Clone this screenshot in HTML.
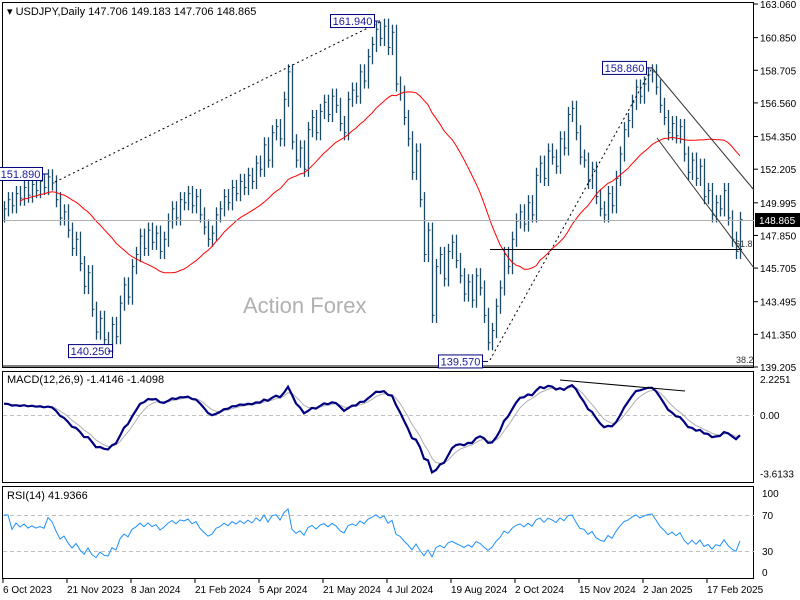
<!DOCTYPE html>
<html><head><meta charset="utf-8"><style>
html,body{margin:0;padding:0;background:#fff;}
svg{display:block;font-family:"Liberation Sans",sans-serif;}
</style></head><body>
<svg id="c" width="800" height="600" viewBox="0 0 800 600">
<rect width="800" height="600" fill="#fff"/>
<g id="frames">
<rect x="2.5" y="2.5" width="751" height="365" fill="none" stroke="#000"/>
<rect x="2.5" y="371.5" width="751" height="111" fill="none" stroke="#000"/>
<rect x="2.5" y="486.5" width="751" height="92" fill="none" stroke="#000"/>
</g>
<text x="243" y="313" font-size="22" fill="#b0b0b0">Action Forex</text>
<g id="main"></g>
<g id="macd"></g>
<g id="rsi"></g>
<g id="axes"></g>
<text x="7" y="15" font-size="11" fill="#000">▾ USDJPY,Daily  147.706 149.183 147.706 148.865</text>
<text x="7" y="383" font-size="11" fill="#000">MACD(12,26,9) -1.4146 -1.4098</text>
<text x="7" y="499" font-size="11" fill="#000">RSI(14) 41.9366</text>
</svg>
<script>
const closes=[149.6,150.2,149.8,150.6,150.3,151.0,150.5,151.2,150.8,151.4,
151.0,151.7,151.3,150.2,149.0,149.4,148.2,147.0,147.6,146.0,
144.5,145.4,143.0,141.5,142.4,141.0,140.6,142.0,141.2,143.4,
144.6,143.8,145.8,146.6,147.8,147.0,148.2,147.4,148.0,146.8,
147.6,148.8,149.6,149.0,150.2,150.0,150.6,149.8,150.4,149.2,
148.4,147.6,148.0,149.2,149.6,150.4,150.0,151.0,150.6,151.4,
151.0,151.8,151.4,152.6,152.2,153.8,152.8,154.6,155.0,154.2,
156.8,158.6,154.0,152.8,153.6,152.2,154.8,155.6,154.6,156.0,
156.6,155.8,157.0,156.4,155.2,154.6,156.8,157.4,157.0,158.6,
158.0,159.6,160.4,161.4,160.8,161.6,160.2,161.2,157.8,157.2,
155.6,154.2,152.0,153.4,150.2,146.6,148.2,142.6,145.8,146.6,
145.0,146.8,147.4,146.2,145.2,144.0,144.8,143.6,145.2,144.4,
142.6,140.8,141.6,143.2,144.4,146.6,145.8,147.6,148.8,149.4,
148.6,150.0,149.2,151.8,152.6,151.6,153.4,153.0,152.4,154.2,
153.6,155.8,156.2,154.6,153.0,152.8,151.4,152.2,150.4,149.6,
149.2,150.6,149.8,151.6,153.2,154.8,155.4,156.6,157.6,157.0,
157.8,158.4,158.6,157.6,156.4,155.6,154.6,155.2,154.4,155.0,
153.2,152.0,152.8,151.6,152.4,150.4,150.8,149.2,150.0,149.6,
150.8,149.0,147.6,146.8,148.9];
const priceTicks=["163.060","160.850","158.705","156.560","154.350","152.205","149.995","147.850","145.705","143.495","141.350","139.205"];
const dateLabels=["6 Oct 2023","21 Nov 2023","8 Jan 2024","21 Feb 2024","5 Apr 2024","21 May 2024","4 Jul 2024","19 Aug 2024","2 Oct 2024","15 Nov 2024","2 Jan 2025","17 Feb 2025"];
const macdTicks=[2.2251,0,-3.6133];
const rsiTicks=[100,70,30,0];
const swingLabels=[["151.890",151.89,11],["161.940",161.94,94],["140.250",140.25,26],["139.570",139.57,121],["158.860",158.86,162]];

const NS="http://www.w3.org/2000/svg";
const X=i=>4+4*i;
const PY=p=>4+(163.06-p)*(363/23.855);
const MY=v=>415-v*16.18;
const RY=v=>578-v*0.9;
function mk(par,tag,a){const e=document.createElementNS(NS,tag);for(const k in a)e.setAttribute(k,a[k]);par.appendChild(e);return e;}
const gm=document.getElementById('main');
for(let i=0;i<closes.length;i++){
 const prev=i?closes[i-1]:closes[i]-0.4;
 const hi=Math.max(prev,closes[i])+0.5, lo=Math.min(prev,closes[i])-0.5;
 const x=X(i)+0.5;
 const l=mk(gm,'line',{x1:x,x2:x,y1:PY(hi),y2:PY(lo),stroke:'#1c4a66','stroke-width':1.3});
 
 
 const t=mk(gm,'line',{x1:x,x2:x+2,y1:PY(closes[i]),y2:PY(closes[i]),stroke:'#1c4a66','stroke-width':1});
 
 
}
let ma=[];for(let i=0;i<closes.length;i++){const s=Math.max(0,i-26);let t=0;for(let j=s;j<=i;j++)t+=closes[j];ma.push(t/(i-s+1));}
let d='';ma.forEach((v,i)=>{if(i>=4)d+=(d?'L':'M')+X(i)+','+PY(v).toFixed(1);});
const mal=mk(gm,'path',{d:d,fill:'none',stroke:'#ff0000','stroke-width':1});


function line(g,x1,y1,x2,y2,st,w,dash,name){const l=mk(g,'line',{x1,y1,x2,y2,stroke:st,'stroke-width':w||1});if(dash)l.setAttribute('stroke-dasharray',dash);

return l;}
line(gm,3,220.5,754,220.5,'#b0b0b0',1,null,'current-price-line');
line(gm,490,249.5,742,249.5,'#000',1,null,'fib-61-8-line');
line(gm,3,366,754,366,'#000',1,null,'fib-38-2-line');
line(gm,55,182,380,22,'#000',1,'2,3','trendline-dotted-1');
line(gm,490,360,652,68,'#000',1,'2,3','trendline-dotted-2');
line(gm,652,68,754,190,'#333',1,null,'channel-upper');
line(gm,657,138,754,268,'#333',1,null,'channel-lower');
const t1=mk(gm,'text',{x:735,y:247,'font-size':9,fill:'#333'});t1.textContent='61.8';


const t2=mk(gm,'text',{x:736,y:363,'font-size':9,fill:'#333'});t2.textContent='38.2';


swingLabels.forEach(s=>{
 const bx=X(s[2]);const y=PY(s[1]);
 const w=44;const x0=s[1]===140.25?bx-40:bx-50;
 const r=mk(gm,'rect',{x:x0+0.5,y:y-6.5,width:w,height:13,fill:'#fff',stroke:'#000080'});
 
 
 line(gm,x0+w,y,bx,y,'#000080',1,null,'swing-label-connector');
 const t=mk(gm,'text',{x:x0+w/2+0.5,y:y+4,'font-size':11,fill:'#1a1aa0','text-anchor':'middle'});t.textContent=s[0];
 
 
});
function ema(arr,p){const k=2/(p+1);let o=[arr[0]];for(let i=1;i<arr.length;i++)o.push(arr[i]*k+o[i-1]*(1-k));return o;}
const ef=ema(closes,6),es=ema(closes,13);
const macd=closes.map((c,i)=>ef[i]-es[i]+0.7*Math.exp(-i/6));
const sig=ema(macd,4.5);
const gM=document.getElementById('macd');
line(gM,3,415.5,754,415.5,'#c0c0c0',1,'4,3','macd-zero-line');
let ds='',dm='';macd.forEach((v,i)=>{dm+=(i?'L':'M')+X(i)+','+MY(v).toFixed(1);ds+=(i?'L':'M')+X(i)+','+MY(sig[i]).toFixed(1);});
const sp=mk(gM,'path',{d:ds,fill:'none',stroke:'#b0b0b0','stroke-width':1});


const mp=mk(gM,'path',{d:dm,fill:'none',stroke:'#000080','stroke-width':2.2});


line(gM,560,380,685,391,'#000',1,null,'macd-divergence-line');
const gR=document.getElementById('rsi');
line(gR,3,515.5,754,515.5,'#c0c0c0',1,'4,3','rsi-70-line');
line(gR,3,551.5,754,551.5,'#c0c0c0',1,'4,3','rsi-30-line');
let ag=0,al=0,rsi=[50];const P=11;
for(let i=1;i<closes.length;i++){const ch=closes[i]-closes[i-1];const g=Math.max(ch,0),l=Math.max(-ch,0);
 if(i<=P){ag+=g/P;al+=l/P;}else{ag=(ag*(P-1)+g)/P;al=(al*(P-1)+l)/P;}
 let r=al===0?100:100-100/(1+ag/al); if(i<P) r=50+(r-50)*0.4;
 rsi.push(r);}
rsi[0]=rsi[1];
let dr='';rsi.forEach((v,i)=>{dr+=(i?'L':'M')+X(i)+','+RY(v).toFixed(1);});
const rp=mk(gR,'path',{d:dr,fill:'none',stroke:'#1e90ff','stroke-width':1});


const ga=document.getElementById('axes');
function lab(x,y,txt,name,anchor){const t=mk(ga,'text',{x,y,'font-size':10,fill:'#000','text-anchor':anchor||'start'});t.textContent=txt;

}
priceTicks.forEach(p=>{const y=PY(parseFloat(p));line(ga,754,y,758,y,'#000',1,null,'price-tick');lab(760,y+4,p,'price-tick-label');});
const pb=mk(ga,'rect',{x:755,y:213,width:45,height:14,fill:'#000'});


const pt=mk(ga,'text',{x:759,y:224,'font-size':10,fill:'#fff'});pt.textContent='148.865';


macdTicks.forEach(v=>{const y=MY(v);lab(760,y+4,v===0?'0.00':v.toFixed(4),'macd-tick-label');});
rsiTicks.forEach(v=>{const y=RY(v)+(v===100?5:(v===0?-6:0));lab(762,y+4,String(v),'rsi-tick-label');});
dateLabels.forEach((s,i)=>{const x=3+64*i;line(ga,x,579,x,583,'#000',1,null,'date-tick');lab(x,593,s,'date-label');});
</script>
</body></html>
